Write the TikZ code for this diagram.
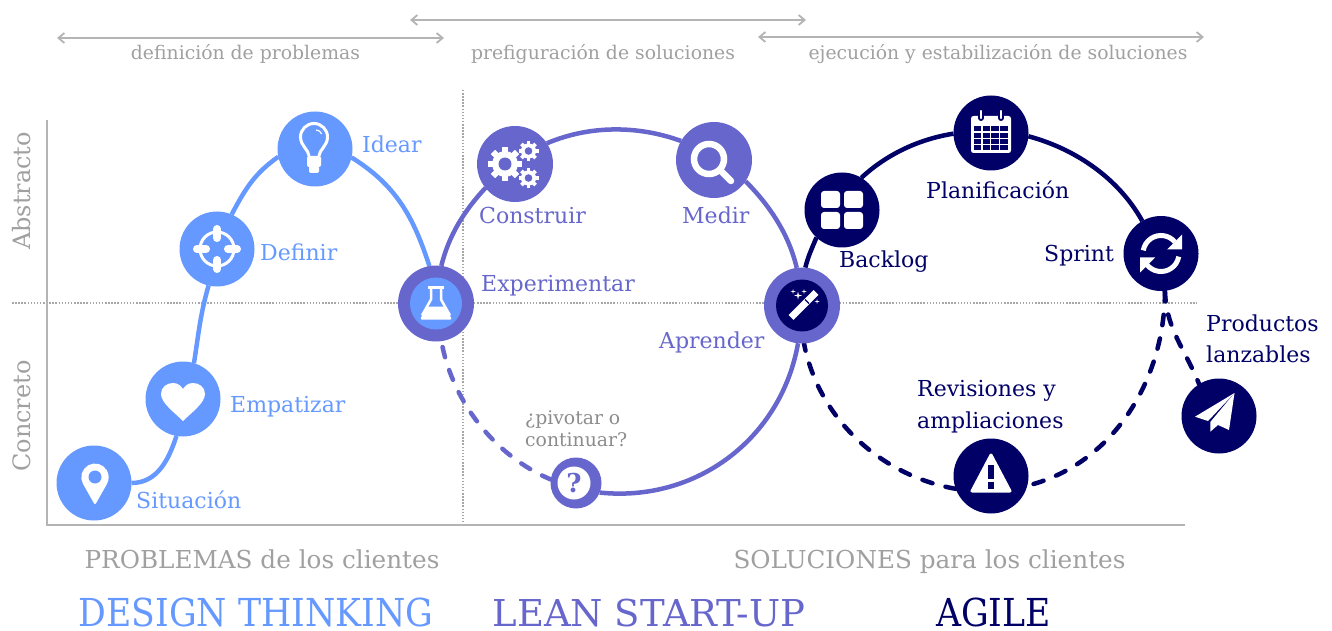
\documentclass[tikz,border=0pt]{standalone}
\usepackage{fontspec}
\setmainfont{DejaVu Serif}
\newfontfamily\condfont{DejaVu Serif Condensed}
\usetikzlibrary{arrows.meta,backgrounds}
\definecolor{cblue}{HTML}{6699FF}
\definecolor{cpurple}{HTML}{6666CC}
\definecolor{cnavy}{HTML}{000066}
\definecolor{cgray}{HTML}{A0A0A0}
\definecolor{caxis}{HTML}{B4B4B4}
\definecolor{cdark}{HTML}{8C8C8C}
\definecolor{cdot}{HTML}{A8A8A8}
\newcommand{\fs}[1]{\fontsize{#1}{#1}\selectfont}
\newcommand{\gearicon}[4]{% x y r holecolor
  \begin{scope}[shift={(#1,#2)}]
    \foreach \a in {0,45,...,315}{\draw[white,line width=#3*0.36pt] (\a:#3*0.6) -- (\a:#3);}
    \fill[white] (0,0) circle[radius=#3*0.76];
    \fill[#4] (0,0) circle[radius=#3*0.38];
  \end{scope}}
\newcommand{\sparkle}[3]{\fill[white] (#1+#3,#2) -- (#1+#3*0.2,#2+#3*0.2) -- (#1,#2+#3) -- (#1-#3*0.2,#2+#3*0.2) -- (#1-#3,#2) -- (#1-#3*0.2,#2-#3*0.2) -- (#1,#2-#3) -- (#1+#3*0.2,#2-#3*0.2) -- cycle;}
\tikzset{
  x=1pt,y=1pt,
  bluecirc/.style={circle,fill=cblue,minimum size=75pt,inner sep=0pt,outer sep=0pt},
  purplecirc/.style={circle,fill=cpurple,minimum size=76pt,inner sep=0pt,outer sep=0pt},
  navycirc/.style={circle,fill=cnavy,minimum size=75pt,inner sep=0pt,outer sep=0pt},
  smallcirc/.style={circle,fill=cpurple,minimum size=51pt,inner sep=0pt,outer sep=0pt},
  lbl/.style={anchor=base west,inner sep=0pt,font=\fs{22}},
  lblblue/.style={lbl,text=cblue},
  lblpurple/.style={lbl,text=cpurple},
  lblnavy/.style={lbl,text=cnavy},
  toptext/.style={anchor=base,inner sep=0pt,text=cgray,font=\fs{18.8}},
  axistext/.style={anchor=base,inner sep=0pt,text=cgray,font=\fs{24},rotate=90},
  subtitle/.style={anchor=base,inner sep=0pt,text=cgray,font=\fs{24.7}},
  bigtitle/.style={anchor=base,inner sep=0pt,font=\condfont\fs{38.5}},
  axisline/.style={caxis,line width=2.2pt},
  dotline/.style={cdot,line width=1.4pt,dash pattern=on 1.5pt off 1.6pt},
  spanarrow/.style={{Straight Barb[length=6pt,width=10pt]}-{Straight Barb[length=6pt,width=10pt]},caxis,line width=1.8pt},
  conblue/.style={cblue,line width=4.5pt},
  conpurple/.style={cpurple,line width=4.5pt},
  connavy/.style={cnavy,line width=4.5pt},
  dashpurple/.style={cpurple,line width=4.5pt,line cap=round,dash pattern=on 10.5pt off 13.5pt},
  dashnavy/.style={cnavy,line width=4.5pt,line cap=round,dash pattern=on 10.5pt off 13.5pt},
}
\begin{document}
\begin{tikzpicture}
\useasboundingbox (0,0) rectangle (1332,630);
% nodes
\node[bluecirc] (sit) at (94,147) {};
\node[bluecirc] (emp) at (183,231) {};
\node[bluecirc] (def) at (217,381) {};
\node[bluecirc] (ide) at (315,481) {};
\node[purplecirc] (exp) at (436,326.5) {};
\node[purplecirc] (con) at (515,466) {};
\node[purplecirc] (med) at (714,470) {};
\node[purplecirc] (apr) at (802,324.5) {};
\node[smallcirc] (que) at (576,147) {};
\node[navycirc] (bac) at (842,420) {};
\node[navycirc] (pla) at (991,497) {};
\node[navycirc] (spr) at (1161,376.5) {};
\node[navycirc] (rev) at (991,154) {};
\node[navycirc] (pro) at (1219,214) {};
% helper coordinates
\coordinate (ax0) at (47,105);
\coordinate (axt) at (47,510);
\coordinate (axr) at (1185,105);
\coordinate (hl) at (12,327);
\coordinate (hr) at (1197,327);
\coordinate (vt) at (463,540);
\coordinate (vb) at (463,105);
\coordinate (a1l) at (57,592);
\coordinate (a1r) at (444,592);
\coordinate (a2l) at (410,610);
\coordinate (a2r) at (806,610);
\coordinate (a3l) at (758,593);
\coordinate (a3r) at (1204,593);
\begin{scope}[on background layer]
  \draw[dotline] (hl) -- (hr);
  \draw[dotline] (vt) -- (vb);
  \draw[axisline,line join=miter] (axt) -- (ax0) -- (axr);
  \draw[spanarrow] (a1l) -- (a1r);
  \draw[spanarrow] (a2l) -- (a2r);
  \draw[spanarrow] (a3l) -- (a3r);
  % blue
  \draw[conblue] (sit.0) to[out=0,in=252] (emp.260);
  \draw[conblue] (emp.73) to[out=81,in=254] (def.257);
  \draw[conblue] (def.67) to[out=62,in=215] (ide.192);
  \draw[conblue] (ide.-13) to[out=-32,in=108] (exp.100);
  % purple
  \draw[conpurple] (exp.82) to[out=76,in=227,looseness=.9] (con.219);
  \draw[conpurple] (con.33) to[out=23,in=160,looseness=.88] (med.150);
  \draw[conpurple] (med.-34) to[out=-45,in=103,looseness=.87] (apr.98);
  \draw[conpurple] (apr.264) to[out=-100,in=-6] (que.-22);
  \draw[dashpurple,shorten <=6pt] (exp.-82) to[out=-78,in=157,looseness=.9] (que.172);
  % navy
  \draw[connavy] (apr.85) to[out=76,in=248] (bac.227);
  \draw[connavy] (bac.59) to[out=43,in=189,looseness=.87] (pla.181);
  \draw[connavy] (pla.-5) to[out=-15,in=119,looseness=.88] (spr.120);
  \draw[dashnavy] (spr.-84) to[out=-90,in=14,looseness=.95] (rev.-15);
  \draw[dashnavy] (rev.200) to[out=170,in=281,looseness=.93] (apr.-87);
  \draw[dashnavy] (spr.-84) to[out=-88,in=112] (pro.122);
\end{scope}
% pin
\begin{scope}[shift={(sit)}]
  \fill[white,draw=white,line width=2pt,line join=round] (1,-20) -- (-10,-0.6) arc[start angle=210,end angle=-30,radius=12.7] -- cycle;
  \fill[cblue] (1,6) circle[radius=6.5];
\end{scope}
% heart
\begin{scope}[shift={(emp)}]
  \fill[white] (0,-22) .. controls (-8,-14) and (-22,-4) .. (-22,5) .. controls (-22,12) and (-16,16) .. (-10,16) .. controls (-5,16) and (-2,13) .. (0,10) .. controls (2,13) and (5,16) .. (10,16) .. controls (16,16) and (22,12) .. (22,5) .. controls (22,-4) and (8,-14) .. (0,-22) -- cycle;
\end{scope}
% crosshair
\begin{scope}[shift={(def)}]
  \draw[white,line width=3pt] (0,0) circle[radius=17];
  \draw[white,line width=8pt,line cap=round] (0,11) -- (0,20) (0,-11) -- (0,-20) (11,0) -- (20,0) (-11,0) -- (-20,0);
\end{scope}
% bulb
\begin{scope}[shift={(ide)}]
  \draw[white,line width=3pt] (-6,-7) .. controls (-6,-1) and (-14.5,3) .. (-14.5,12) arc[start angle=180,end angle=0,radius=13.5] .. controls (12.5,3) and (4,-1) .. (4,-7);
  \fill[white,rounded corners=2pt] (-8,-7) rectangle (6,-18);
  \fill[white,rounded corners=2pt] (-6,-17) rectangle (4,-24);
  \draw[white,line width=1.2pt] (1,19) arc[start angle=90,end angle=20,radius=6];
\end{scope}
% flask
\begin{scope}[shift={(exp)}]
  \fill[cblue] (0,0) circle[radius=26];
  \draw[white,line width=2.5pt,line join=round] (-5,16) -- (-5,4) -- (-14,-12) (5,16) -- (5,4) -- (14,-12);
  \draw[white,line width=3pt] (-8,16.5) -- (8,16.5);
  \fill[white,rounded corners=1.5pt] (-9,-3) -- (9,-3) -- (16,-16) -- (-16,-16) -- cycle;
\end{scope}
% gears
\begin{scope}[shift={(con)}]
  \gearicon{-10}{0}{17}{cpurple}
  \gearicon{13.5}{13}{10}{cpurple}
  \gearicon{13.5}{-14}{10}{cpurple}
\end{scope}
% magnifier
\begin{scope}[shift={(med)}]
  \draw[white,line width=6.5pt] (-5,1) circle[radius=15];
  \draw[white,line width=6.5pt,line cap=round] (8,-12) -- (17,-21);
\end{scope}
% wand
\begin{scope}[shift={(apr)}]
  \fill[cnavy] (0,0) circle[radius=26];
  \draw[white,line width=7pt] (-11,-12) -- (14,13);
  \draw[cnavy,line width=1.2pt] (7,2) -- (3,6);
  \sparkle{-4}{10}{4}
  \sparkle{-9}{14}{2.5}
  \sparkle{2}{14}{2.5}
  \sparkle{15}{4}{2.5}
\end{scope}
% question
\begin{scope}[shift={(que)}]
  \fill[white] (-2,0) circle[radius=16.5];
  \node[inner sep=0pt,text=cpurple,font=\bfseries\fs{26}] (qm) at (-2,0) {?};
\end{scope}
% grid
\begin{scope}[shift={(bac)}]
  \fill[white,rounded corners=3pt] (-21,2) rectangle (-2,19);
  \fill[white,rounded corners=3pt] (2,2) rectangle (21,19);
  \fill[white,rounded corners=3pt] (-21,-2) rectangle (-2,-19);
  \fill[white,rounded corners=3pt] (2,-2) rectangle (21,-19);
\end{scope}
% calendar
\begin{scope}[shift={(pla)}]
  \fill[white,rounded corners=2.5pt] (-20,-20) rectangle (20,17);
  \foreach \i in {0,1,2,3}{\foreach \j in {0,1,2,3}{
    \fill[cnavy] (-17+\i*8.7,-17+\j*6.2) rectangle ++(7.4,5);}}
  \foreach \s in {-10,10}{
    \draw[cnavy,line width=6pt,line cap=round] (\s,15) -- (\s,22);
    \draw[white,line width=2.4pt,line cap=round] (\s,15) -- (\s,22);}
\end{scope}
% sync
\begin{scope}[shift={(spr)}]
  \draw[white,line width=5pt] (170:18) arc[start angle=170,end angle=40,radius=18];
  \fill[white] (21,19) -- (21,4) -- (6,4) -- cycle;
  \draw[white,line width=5pt] (-10:18) arc[start angle=-10,end angle=-140,radius=18];
  \fill[white] (-21,-19) -- (-21,-4) -- (-6,-4) -- cycle;
\end{scope}
% warning
\begin{scope}[shift={(rev)}]
  \fill[white,draw=white,line width=3pt,line join=round] (0,21) -- (-19,-15) -- (19,-15) -- cycle;
  \draw[cnavy,line width=6pt] (0,11) -- (0,-3);
  \fill[cnavy] (-3,-6) rectangle (3,-13);
\end{scope}
% plane
\begin{scope}[shift={(pro)}]
  \fill[white] (15.5,23) -- (-24,-0.7) -- (-11,-5) -- cycle;
  \fill[white] (15.5,23) -- (-8.7,-6) -- (-8.7,-15.7) -- (-1,-9) -- (10,-14) -- cycle;
\end{scope}
% texts
\node[toptext] (t1) at (245.5,570) {definición de problemas};
\node[toptext] (t2) at (603,570) {prefiguración de soluciones};
\node[toptext] (t3) at (998,570) {ejecución y estabilización de soluciones};
\node[axistext] (ab) at (31,439) {Abstracto};
\node[axistext] (co) at (31,214) {Concreto};
\node[lblblue] (l1) at (362,477) {Idear};
\node[lblblue] (l2) at (260,370) {Definir};
\node[lblblue] (l3) at (230,218) {Empatizar};
\node[lblblue] (l4) at (136,122) {Situación};
\node[lblpurple] (l5) at (479,406) {Construir};
\node[lblpurple] (l6) at (682,406) {Medir};
\node[lblpurple] (l7) at (481,338) {Experimentar};
\node[lblpurple] (l8) at (659,282) {Aprender};
\node[lblnavy] (l9) at (839,362) {Backlog};
\node[lblnavy] (l10) at (926,431) {Planificación};
\node[lblnavy] (l11) at (1044,368) {Sprint};
\node[lblnavy] (l12) at (917,234) {Revisiones y};
\node[lblnavy] (l13) at (917,202) {ampliaciones};
\node[lblnavy] (l14) at (1206,299) {Productos};
\node[lblnavy] (l15) at (1206,268) {lanzables};
\node[anchor=base west,inner sep=0pt,text=cdark,font=\fs{18.8}] (l16) at (525,206) {¿pivotar o};
\node[anchor=base west,inner sep=0pt,text=cdark,font=\fs{18.8}] (l17) at (525,184) {continuar?};
\node[subtitle] (s1) at (262,62) {PROBLEMAS de los clientes};
\node[subtitle] (s2) at (929.5,62) {SOLUCIONES para los clientes};
\node[bigtitle,text=cblue] (b1) at (256,4) {DESIGN THINKING};
\node[bigtitle,text=cpurple,font=\fs{37}] (b2) at (649,4) {LEAN START-UP};
\node[bigtitle,text=cnavy] (b3) at (993.5,4) {AGILE};
\end{tikzpicture}
\end{document}
